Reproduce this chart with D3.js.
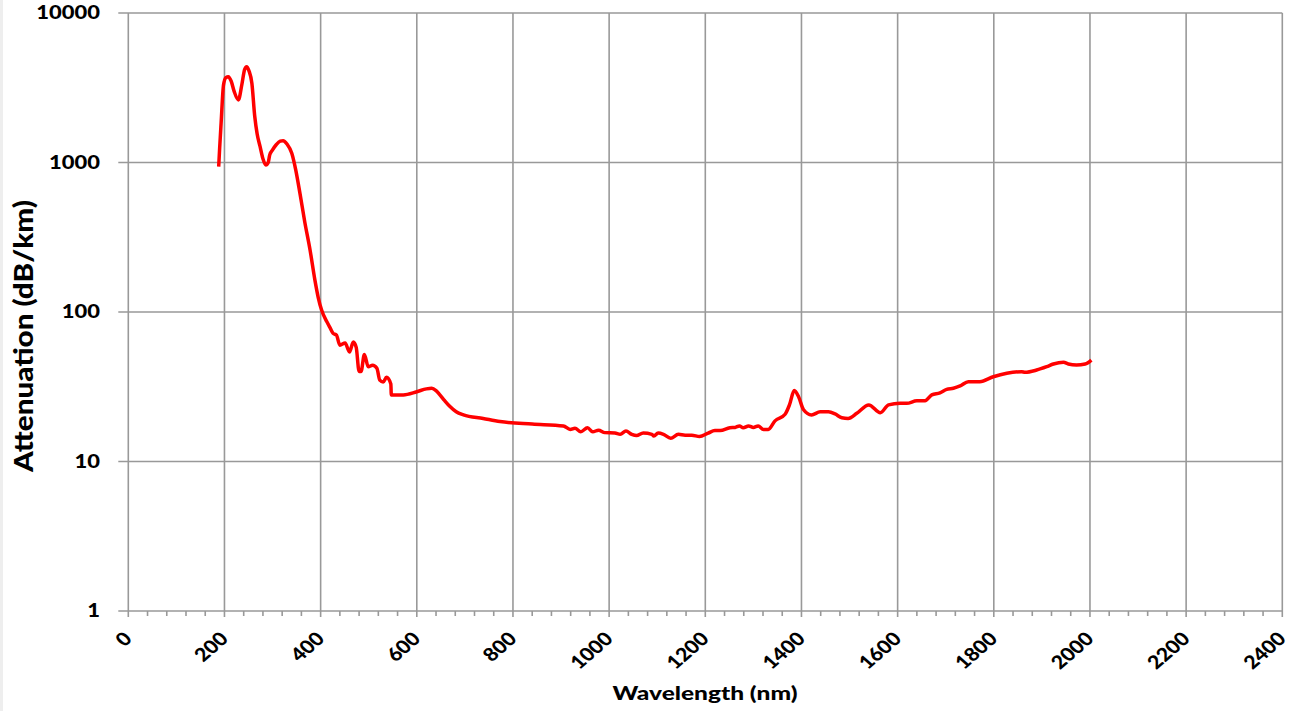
<!DOCTYPE html>
<html>
<head>
<meta charset="utf-8">
<script src="https://cdn.jsdelivr.net/npm/d3@7"></script>
<style>
  body { margin: 0; background: #fff; }
  text { font-family: Lato, "Open Sans", sans-serif; font-weight: 900; fill: #000; }
</style>
</head>
<body>
<svg width="1302" height="711"></svg>
<script>
// wavelength (nm) and attenuation (dB/km)
const wavelength = [188, 190, 193, 198, 203, 208, 214, 220, 229, 236, 242, 246, 251, 257, 263, 268, 274, 280, 286, 291,
  294, 299, 308, 316, 322, 330, 340, 348, 357, 367, 378, 388, 395, 402, 413, 420, 426, 433, 440, 451,
  460, 468, 474, 480, 484, 491, 499, 508, 517, 523, 530, 537, 546, 547, 572, 600, 620, 631, 640, 648,
  658, 669, 682, 697, 738, 773, 840, 905, 919, 929, 941, 955, 966, 978, 991, 1012, 1023, 1035, 1047, 1057,
  1071, 1089, 1093, 1102, 1113, 1128, 1144, 1158, 1172, 1188, 1206, 1220, 1231, 1251, 1262, 1271, 1279, 1290, 1300, 1310,
  1321, 1331, 1345, 1366, 1375, 1385, 1394, 1404, 1421, 1439, 1456, 1470, 1484, 1497, 1515, 1540, 1564, 1581, 1605, 1619,
  1640, 1657, 1671, 1688, 1702, 1716, 1730, 1747, 1771, 1799, 1827, 1858, 1865, 1889, 1910, 1924, 1945, 1955, 1972, 1990, 2003];
const attenuation = [938, 1250, 1830, 3300, 3700, 3750, 3500, 3000, 2620, 3300, 4200, 4375, 4100, 3390, 2030, 1550, 1280, 1060, 962, 1000,
  1120, 1200, 1320, 1390, 1400, 1330, 1153, 900, 622, 400, 260, 164, 125, 103, 86, 78, 72, 70, 60, 62,
  54, 63, 58, 40, 40, 52, 43, 44, 42, 35, 34, 36.6, 33, 27.9, 27.9, 29.3, 30.6, 30.9, 29.8, 27.9,
  25.5, 23.3, 21.5, 20.5, 19.4, 18.5, 17.8, 17.3, 16.4, 16.7, 15.8, 16.8, 15.8, 16.2, 15.6, 15.5, 15.2, 16.0, 15.2, 14.9,
  15.5, 15.2, 14.8, 15.5, 15.2, 14.3, 15.2, 15.0, 15.0, 14.7, 15.5, 16.1, 16.1, 16.8, 16.9, 17.3, 16.8, 17.3, 16.9, 17.3,
  16.4, 16.4, 18.7, 20.7, 23.9, 29.8, 27.1, 22.3, 20.5, 21.5, 21.5, 20.8, 19.6, 19.4, 21.0, 23.9, 21.2, 23.9, 24.5, 24.5,
  25.5, 25.5, 27.9, 28.8, 30.4, 30.9, 32.0, 34.2, 34.2, 36.9, 38.9, 39.9, 39.5, 40.9, 43.1, 44.9, 46.1, 44.9, 44.2, 44.9, 47.7];

const xTicks = d3.range(0, 2401, 200);
const xMinorTicks = d3.range(0, 2401, 40);
const yTicks = [1, 10, 100, 1000, 10000];

const svg = d3.select("svg");
const x = d3.scaleLinear().domain([0, 2400]).range([128.3, 1282.3]);
const y = d3.scaleLog().domain([1, 10000]).range([611, 13]);

// faint left edge strip
svg.append("rect").attr("x", 0).attr("y", 0).attr("width", 3).attr("height", 711).attr("fill", "#eeeeee");

const grid = svg.append("g").attr("stroke", "#999").attr("stroke-width", 1.6);

grid.selectAll(".hg").data(yTicks).join("line")
  .attr("x1", x(0) - 10).attr("x2", x(2400))
  .attr("y1", d => y(d)).attr("y2", d => y(d));

grid.selectAll(".vg").data(xTicks).join("line")
  .attr("x1", d => x(d)).attr("x2", d => x(d))
  .attr("y1", y(10000)).attr("y2", y(1) + 6);

grid.selectAll(".mt").data(xMinorTicks.filter(d => d % 200)).join("line")
  .attr("x1", d => x(d)).attr("x2", d => x(d))
  .attr("y1", y(1)).attr("y2", y(1) + 5);

// y tick labels
svg.selectAll(".yl").data(yTicks).join("text")
  .attr("transform", d => `translate(100,${y(d)}) scale(1.22,1)`)
  .attr("text-anchor", "end")
  .attr("dy", "0.36em")
  .attr("font-size", 18)
  .text(d => d);

// x tick labels
svg.selectAll(".xl").data(xTicks).join("text")
  .attr("transform", d => `translate(${x(d) + 5},640) scale(1.15,1) rotate(-45)`)
  .attr("text-anchor", "end")
  .attr("font-size", 18.5)
  .text(d => d);

// axis titles
svg.append("text")
  .attr("transform", "translate(33,336) rotate(-90)")
  .attr("text-anchor", "middle")
  .attr("font-size", 26)
  .attr("textLength", 272)
  .attr("lengthAdjust", "spacingAndGlyphs")
  .text("Attenuation (dB/km)");

svg.append("text")
  .attr("x", 705).attr("y", 700)
  .attr("text-anchor", "middle")
  .attr("font-size", 18)
  .attr("textLength", 185)
  .attr("lengthAdjust", "spacingAndGlyphs")
  .text("Wavelength (nm)");

const line = d3.line()
  .x((d, i) => x(wavelength[i]))
  .y(d => y(d))
  .curve(d3.curveMonotoneX);

svg.append("path")
  .datum(attenuation)
  .attr("fill", "none")
  .attr("stroke", "#ff0000")
  .attr("stroke-width", 3.5)
  .attr("stroke-linejoin", "round")
  .attr("d", line);
</script>
</body>
</html>
